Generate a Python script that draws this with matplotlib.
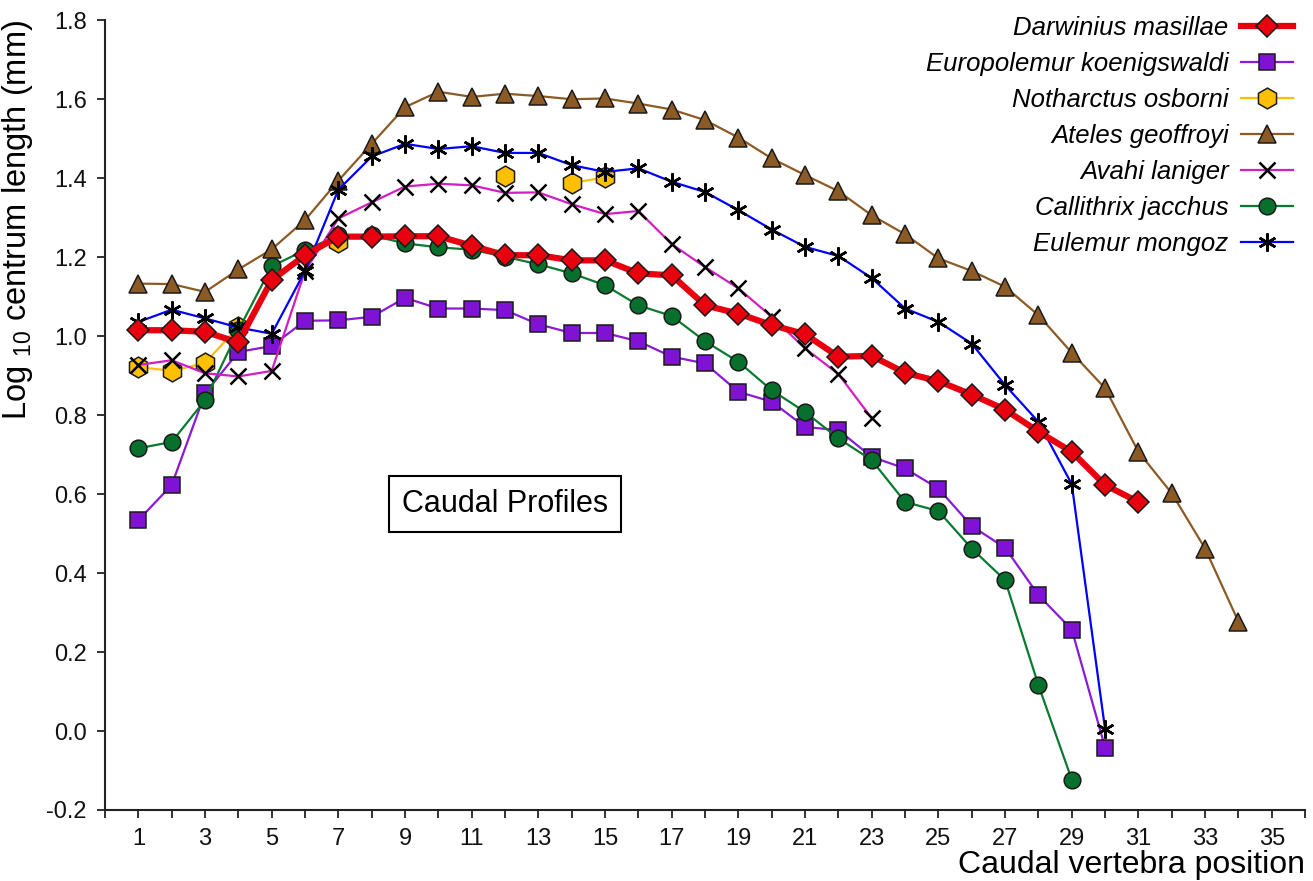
import numpy as np
import matplotlib
matplotlib.use("Agg")
import matplotlib.pyplot as plt
from matplotlib import font_manager

# log10 centrum length per caudal vertebra
darwinius = [1.015, 1.015, 1.011, 0.984, 1.142, 1.205, 1.252, 1.252, 1.253, 1.253,
             1.229, 1.205, 1.205, 1.192, 1.192, 1.159, 1.154, 1.078, 1.057, 1.028,
             1.005, 0.948, 0.950, 0.907, 0.886, 0.852, 0.814, 0.758, 0.707, 0.623, 0.580]
europolemur = [0.534, 0.623, 0.855, 0.960, 0.975, 1.039, 1.040, 1.049, 1.097, 1.070,
               1.070, 1.066, 1.030, 1.008, 1.008, 0.987, 0.948, 0.931, 0.859, 0.834,
               0.770, 0.762, 0.694, 0.665, 0.614, 0.519, 0.464, 0.344, 0.257, -0.042]
notharctus = [0.922, 0.912, 0.932, 1.024, np.nan, np.nan, 1.239, np.nan, np.nan, np.nan,
              np.nan, 1.405, np.nan, 1.388, 1.402]
ateles = [1.133, 1.132, 1.112, 1.169, 1.220, 1.294, 1.394, 1.487, 1.580, 1.619,
          1.606, 1.614, 1.608, 1.600, 1.602, 1.589, 1.574, 1.547, 1.503, 1.450,
          1.408, 1.367, 1.306, 1.258, 1.197, 1.165, 1.125, 1.053, 0.958, 0.868,
          0.707, 0.602, 0.462, 0.277]
avahi = [0.927, 0.939, 0.906, 0.898, 0.912, 1.165, 1.298, 1.339, 1.379, 1.386,
         1.382, 1.363, 1.364, 1.334, 1.309, 1.317, 1.233, 1.175, 1.121, 1.049,
         0.969, 0.904, 0.792]
callithrix = [0.716, 0.732, 0.838, 1.015, 1.177, 1.218, 1.255, 1.255, 1.235, 1.225,
              1.219, 1.201, 1.182, 1.159, 1.129, 1.078, 1.051, 0.987, 0.935, 0.863,
              0.808, 0.741, 0.686, 0.580, 0.557, 0.462, 0.382, 0.116, -0.123]
eulemur = [1.036, 1.067, 1.045, 1.022, 1.006, 1.165, 1.371, 1.455, 1.487, 1.474,
           1.481, 1.464, 1.464, 1.433, 1.416, 1.425, 1.391, 1.365, 1.319, 1.270,
           1.226, 1.203, 1.147, 1.070, 1.036, 0.981, 0.876, 0.783, 0.625, 0.004]

# font: narrow sans for tick labels if there is one
names = set(f.name for f in font_manager.fontManager.ttflist)
main_font = "Liberation Sans" if "Liberation Sans" in names else "DejaVu Sans"
tick_font = "Liberation Sans Narrow" if "Liberation Sans Narrow" in names else main_font

plt.rcParams["font.family"] = [main_font, "DejaVu Sans"]
plt.rcParams["mathtext.default"] = "regular"
plt.rcParams["axes.unicode_minus"] = False

fig = plt.figure(figsize=(13.13, 8.81), dpi=100)
ax = fig.add_axes([0.080, 0.0806, 0.914, 0.8964])


def pos(vals):
    return np.arange(1, len(vals) + 1)


# series: (label, data, line colour, marker, marker face, size, line width, zorder)
series = [
    ("Darwinius masillae", darwinius, "#e8000e", "D", "#e8000e", 11, 4.5, 9),
    ("Europolemur koenigswaldi", europolemur, "#8a1ad6", "s", "#7f12d4", 11, 1.6, 3),
    ("Notharctus osborni", notharctus, "#ffbf00", "h", "#ffc000", 15, 1.6, 4),
    ("Ateles geoffroyi", ateles, "#8c5a24", "^", "#8c5a24", 12.5, 1.6, 2),
    ("Avahi laniger", avahi, "#d21ec3", "x", "none", 12, 1.6, 6),
    ("Callithrix jacchus", callithrix, "#0a7a30", "o", "#07702c", 12, 1.6, 5),
    ("Eulemur mongoz", eulemur, "#0000ff", (6, 2, 0), "none", 13, 1.6, 7),
]

for label, vals, col, mk, face, ms, lw, z in series:
    if mk in ("x", (6, 2, 0)):
        ax.plot(pos(vals), vals, color=col, lw=lw, marker=mk, ms=ms,
                mec="black", mew=1.8, label=label, zorder=z)
    else:
        ax.plot(pos(vals), vals, color=col, lw=lw, marker=mk, ms=ms,
                mfc=face, mec="#1a1a1a", mew=1.1, label=label, zorder=z)

ax.set_xlim(0, 36)
ax.set_ylim(-0.2, 1.8)
ax.set_xticks(range(0, 37))
ax.set_xticklabels([str(i) if i % 2 == 1 else "" for i in range(0, 37)])
ax.set_yticks(np.arange(-0.2, 1.81, 0.2))
ax.set_yticklabels(["%.1f" % v for v in np.arange(-0.2, 1.81, 0.2)])

for s in ["top", "right"]:
    ax.spines[s].set_visible(False)
for s in ["left", "bottom"]:
    ax.spines[s].set_linewidth(1.5)
    ax.spines[s].set_color("#222222")
ax.tick_params(direction="out", length=6, width=1.3, colors="#222222",
               labelsize=17, pad=7)
for t in ax.get_xticklabels() + ax.get_yticklabels():
    t.set_fontfamily(tick_font)
    t.set_color("#111111")

ax.set_ylabel("Log $_{10}$ centrum length (mm)", fontsize=23.5, loc="top", labelpad=8)
ax.set_xlabel("Caudal vertebra position", fontsize=23, loc="right", labelpad=0)

ax.text(12, 0.575, "Caudal Profiles", fontsize=22, ha="center", va="center",
        bbox=dict(boxstyle="square,pad=0.42", fc="white", ec="black", lw=1.5))

leg = ax.legend(loc="upper right", bbox_to_anchor=(1.009, 1.035), frameon=False,
                markerfirst=False, handlelength=2.0, labelspacing=0.47,
                handletextpad=0.5,
                prop=dict(family=main_font, style="italic", size=18.5))
for t in leg.get_texts():
    t.set_ha("right")

fig.savefig("out.png", dpi=100)
